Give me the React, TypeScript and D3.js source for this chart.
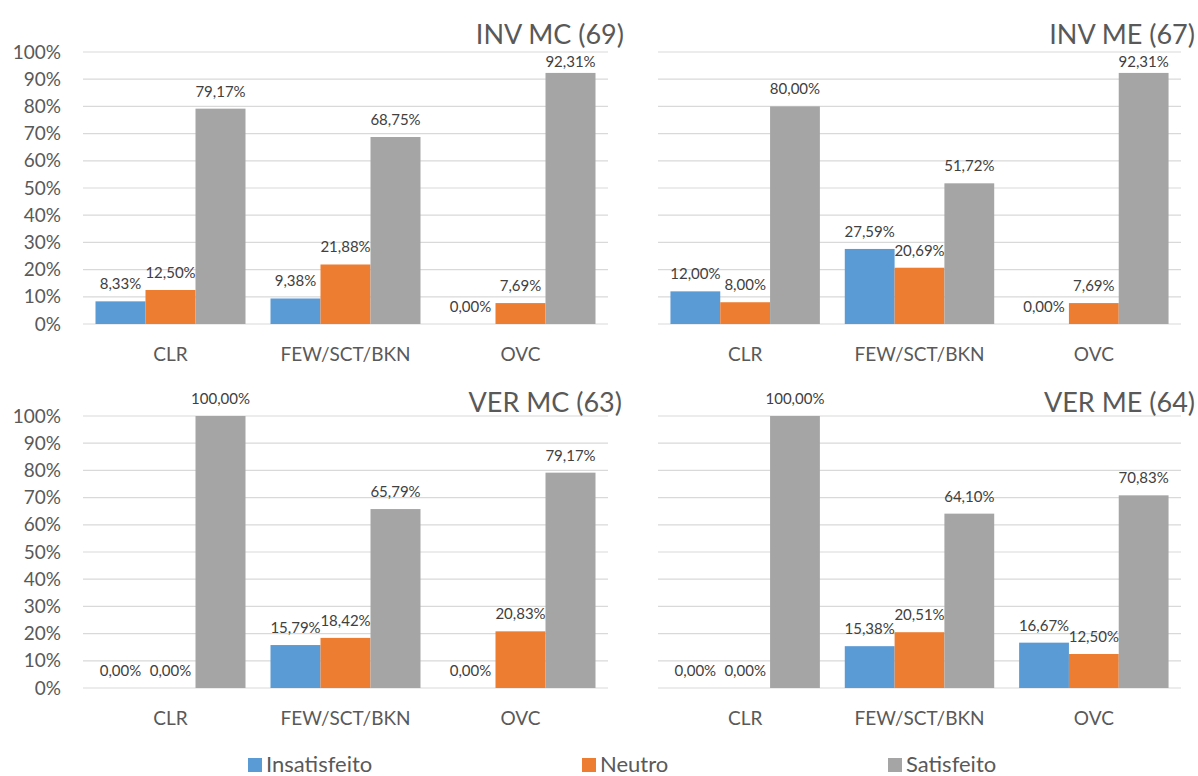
import React from "react";
import * as d3 from "d3";

const categories = ["CLR", "FEW/SCT/BKN", "OVC"];
const seriesNames = ["Insatisfeito", "Neutro", "Satisfeito"];
const seriesColors = ["#5B9BD5", "#ED7D31", "#A5A5A5"];
const yTicks = [0, 10, 20, 30, 40, 50, 60, 70, 80, 90, 100];

const invMcInsatisfeito = [8.33, 9.38, 0];
const invMcNeutro = [12.5, 21.88, 7.69];
const invMcSatisfeito = [79.17, 68.75, 92.31];

const invMeInsatisfeito = [12.0, 27.59, 0];
const invMeNeutro = [8.0, 20.69, 7.69];
const invMeSatisfeito = [80.0, 51.72, 92.31];

const verMcInsatisfeito = [0, 15.79, 0];
const verMcNeutro = [0, 18.42, 20.83];
const verMcSatisfeito = [100.0, 65.79, 79.17];

const verMeInsatisfeito = [0, 15.38, 16.67];
const verMeNeutro = [0, 20.51, 12.5];
const verMeSatisfeito = [100.0, 64.1, 70.83];

const panelTitles = ["INV MC (69)", "INV ME (67)", "VER MC (63)", "VER ME (64)"];

const panelData = [
  [invMcInsatisfeito, invMcNeutro, invMcSatisfeito],
  [invMeInsatisfeito, invMeNeutro, invMeSatisfeito],
  [verMcInsatisfeito, verMcNeutro, verMcSatisfeito],
  [verMeInsatisfeito, verMeNeutro, verMeSatisfeito],
];

// layout
const W = 1198;
const H = 776;
const FONT = "Lato, 'Open Sans', sans-serif";
const TEXT = "#595959";
const LABEL = "#404040";
const GRID = "#D9D9D9";

const panelLayout = [
  { x0: 83, x1: 608, yTop: 52, yBottom: 324, showY: true, titleX: 624, titleY: 44 },
  { x0: 658, x1: 1181, yTop: 52, yBottom: 324, showY: false, titleX: 1195, titleY: 44 },
  { x0: 83, x1: 608, yTop: 416, yBottom: 688, showY: true, titleX: 622, titleY: 412 },
  { x0: 658, x1: 1181, yTop: 416, yBottom: 688, showY: false, titleX: 1195, titleY: 412 },
];

const legendX = [248, 582, 888];
const legendY = 758;

const fmt = (v: number) => v.toFixed(2).replace(".", ",") + "%";

function Panel({ idx }: { idx: number }) {
  const L = panelLayout[idx];
  const data = panelData[idx];
  const x0 = d3
    .scaleBand<string>()
    .domain(categories)
    .range([L.x0, L.x1])
    .paddingInner(1 / 7)
    .paddingOuter(1 / 14);
  const x1 = d3
    .scaleBand<string>()
    .domain(seriesNames)
    .range([0, x0.bandwidth()]);
  const y = d3.scaleLinear().domain([0, 100]).range([L.yBottom, L.yTop]);

  return (
    <g>
      {yTicks.map((t) => (
        <g key={t}>
          <line x1={L.x0} x2={L.x1} y1={y(t)} y2={y(t)} stroke={GRID} strokeWidth={1.2} />
          {L.showY && (
            <text
              x={61}
              y={y(t)}
              dy="0.35em"
              textAnchor="end"
              fontSize={19}
              fill={TEXT}
              fontFamily={FONT}
            >
              {t + "%"}
            </text>
          )}
        </g>
      ))}
      {categories.map((c, ci) => (
        <g key={c}>
          {seriesNames.map((s, si) => {
            const v = data[si][ci];
            const bx = (x0(c) as number) + (x1(s) as number);
            return (
              <rect
                key={s}
                x={bx}
                y={y(v)}
                width={x1.bandwidth()}
                height={y(0) - y(v)}
                fill={seriesColors[si]}
              />
            );
          })}
          <text
            x={(x0(c) as number) + x0.bandwidth() / 2}
            y={L.yBottom + 37}
            textAnchor="middle"
            fontSize={19}
            fill={TEXT}
            fontFamily={FONT}
          >
            {c}
          </text>
        </g>
      ))}
      {categories.map((c, ci) =>
        seriesNames.map((s, si) => {
          const v = data[si][ci];
          const cx = (x0(c) as number) + (x1(s) as number) + x1.bandwidth() / 2;
          let ly = y(v) - 12;
          // keep labels that sit under the panel title from colliding with it
          if (cx > L.titleX - 160) ly = Math.max(ly, L.titleY + 23);
          return (
            <text
              key={c + s}
              x={cx}
              y={ly}
              textAnchor="middle"
              fontSize={15}
              fill={LABEL}
              fontFamily={FONT}
            >
              {fmt(v)}
            </text>
          );
        })
      )}
      <text
        x={L.titleX}
        y={L.titleY}
        textAnchor="end"
        fontSize={27}
        fill={TEXT}
        fontFamily={FONT}
      >
        {panelTitles[idx]}
      </text>
    </g>
  );
}

export default function App() {
  return (
    <div style={{ position: "absolute", left: 0, top: 0 }}>
      <svg width={W} height={H} style={{ display: "block", background: "#fff" }}>
        <rect x={0} y={0} width={W} height={H} fill="#fff" />
        {panelTitles.map((_, i) => (
          <Panel key={i} idx={i} />
        ))}
        {seriesNames.map((s, i) => (
          <g key={s}>
            <rect x={legendX[i]} y={legendY} width={14} height={14} fill={seriesColors[i]} />
            <text
              x={legendX[i] + 18}
              y={legendY + 14}
              fontSize={22}
              fill={TEXT}
              fontFamily={FONT}
            >
              {s}
            </text>
          </g>
        ))}
      </svg>
    </div>
  );
}
